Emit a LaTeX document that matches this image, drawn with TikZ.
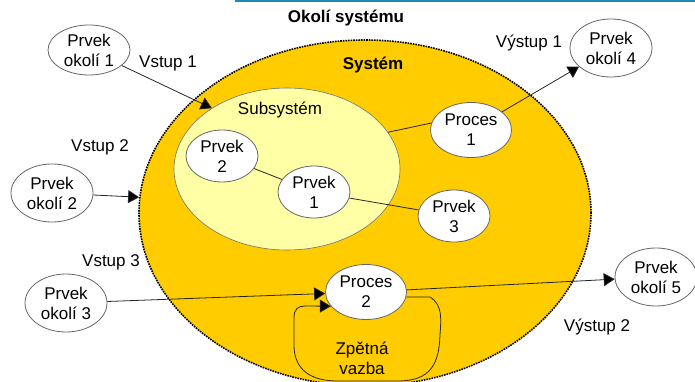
\documentclass[tikz,border=0pt]{standalone}
\usepackage{fontspec}
\setmainfont{Liberation Sans}
\usetikzlibrary{positioning, arrows.meta, shapes.geometric}
\definecolor{sysyellow}{RGB}{255,204,0}
\definecolor{subyellow}{RGB}{255,255,165}
\definecolor{topblue}{RGB}{27,138,181}

\begin{document}
\begin{tikzpicture}[x=1pt, y=-1pt,
    element/.style={ellipse, draw=black!60, fill=white, inner sep=0pt, line width=0.8pt, align=center, font=\fontsize{17}{20}\selectfont},
    envnode/.style={element, minimum width=82pt, minimum height=58pt},
    procnode/.style={element, minimum width=81pt, minimum height=55pt},
    partnode/.style={element, minimum width=72pt, minimum height=52pt},
    arrow/.style={-{Triangle[length=11pt, width=13pt, fill=black]}, black!85, line width=0.8pt},
    link/.style={black!85, line width=0.8pt},
    note/.style={font=\fontsize{17}{20}\selectfont, align=center},
]
\useasboundingbox (0,0) rectangle (695,382);
\fill[topblue] (235,0) rectangle (695,2.5);

% System and subsystem
\node[ellipse, fill=sysyellow, draw=black, densely dotted, line width=1.6pt, inner sep=0pt, minimum width=452pt, minimum height=346pt] (sys) at (365,213) {};
\node[ellipse, fill=subyellow, draw=black!55, line width=0.6pt, inner sep=0pt, minimum width=226pt, minimum height=162pt] (sub) at (287,169) {};

% Titles
\node[note, font=\fontsize{17}{20}\selectfont\bfseries] (okoli) at (346,18) {Okolí systému};
\node[note, font=\fontsize{17}{20}\selectfont\bfseries] (system) at (373,65) {Systém};
\node[note] (subsys) at (280,110) {Subsystém};

% Elements inside
\node[partnode] (p2) at (222,156) {Prvek\\2};
\node[partnode] (p1) at (314,192) {Prvek\\1};
\node[partnode] (p3) at (454,216) {Prvek\\3};
\node[procnode] (pr1) at (471,130) {Proces\\1};
\node[procnode] (pr2) at (366,292) {Proces\\2};

% Environment elements
\node[envnode, minimum height=50pt] (ok1) at (89,50) {Prvek\\okolí 1};
\node[envnode] (ok2) at (52,193) {Prvek\\okolí 2};
\node[envnode] (ok3) at (66,303) {Prvek\\okolí 3};
\node[envnode] (ok4) at (611,48) {Prvek\\okolí 4};
\node[envnode] (ok5) at (656,277) {Prvek\\okolí 5};

% Inputs and outputs
\node[note] (in1) at (168,63) {Vstup 1};
\node[note] (in2) at (100,147) {Vstup 2};
\node[note] (in3) at (111,262) {Vstup 3};
\node[note] (out1) at (529,43) {Výstup 1};
\node[note] (out2) at (597,327) {Výstup 2};
\node[note] (fb) at (362,358) {Zpětná\\vazba};

% Connectors
\draw[arrow] (ok1) -- (sub.141);
\draw[arrow] (ok2) -- (sys.176);
\draw[arrow] (ok3) -- (pr2);
\draw[arrow] (pr1) -- (ok4);
\draw[arrow] (pr2) -- (ok5);
\draw[link] (sub.20) -- (pr1.170);
\draw[link] (p2) -- (p1);
\draw[link] (p1) -- (p3);

% Feedback loop
\draw[arrow] (pr2.-7) -- (430,297) .. controls (443,305) and (441,320) .. (440,335)
    .. controls (439,365) and (430,380) .. (400,381) -- (335,381)
    .. controls (305,380) and (294,365) .. (294,345) -- (294,318)
    .. controls (294,309) and (298,306) .. (305,306) -- (pr2.202);
\end{tikzpicture}
\end{document}
